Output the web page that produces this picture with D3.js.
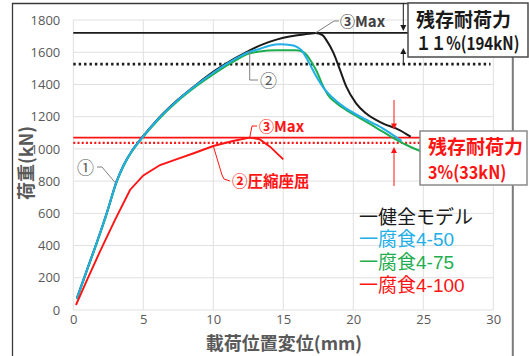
<!DOCTYPE html>
<html>
<head>
<meta charset="utf-8">
<script src="https://cdn.jsdelivr.net/npm/d3@7"></script>
<style>
  html, body { margin: 0; padding: 0; background: #fff; }
  svg { display: block; }
</style>
</head>
<body>
<svg id="chart" width="529" height="356"></svg>
<script>
// Load–displacement curves (displacement mm, load kN)
const healthy = [[0.25,72],[1.0,255],[1.7,425],[2.4,605],[3.1,800],[3.6,900],[4.2,990],[4.9,1070],[6.0,1182],[7.4,1300],[8.8,1400],[10.2,1490],[11.5,1560],[12.6,1612],[14.0,1664],[15.0,1690],[16.0,1706],[16.8,1714],[17.3,1720],[17.8,1706],[18.1,1672],[18.6,1593],[19.05,1490],[19.5,1386],[20.2,1283],[20.9,1221],[22.1,1159],[23.3,1117],[24.1,1076]];
const corr50 = [[0.25,70],[1.0,255],[1.7,425],[2.4,605],[3.1,800],[3.6,900],[4.2,990],[4.9,1068],[6.0,1180],[7.4,1298],[8.8,1398],[10.2,1485],[11.5,1555],[12.6,1603],[13.3,1620],[14.0,1640],[14.8,1649],[15.5,1645],[16.0,1632],[16.3,1612],[16.8,1541],[17.3,1459],[17.9,1376],[18.45,1324],[19.3,1262],[20.5,1200],[22.1,1128],[23.45,1050]];
const corr75 = [[0.25,68],[1.0,250],[1.7,420],[2.4,600],[3.1,795],[3.6,895],[4.2,985],[4.9,1065],[6.0,1175],[7.4,1292],[8.8,1390],[10.2,1475],[11.5,1545],[12.6,1593],[13.3,1605],[14.5,1612],[15.9,1612],[16.5,1598],[17.0,1541],[17.4,1479],[17.75,1407],[18.2,1334],[18.8,1283],[19.5,1241],[20.5,1190],[21.7,1128],[22.9,1066],[23.8,1024],[24.6,993],[25.4,965]];
const corr100 = [[0.19,31],[1.0,190],[1.9,362],[2.98,559],[4.05,745],[5.0,835],[6.2,900],[7.4,937],[8.6,973],[10.0,1018],[11.4,1049],[12.6,1070],[13.3,1060],[14.05,1014],[15.0,935]];

// Maximum loads and residual capacities
const maxLoads = [1720, 1070];          // healthy model, corrosion 4-100
const residualKN = [194, 33];
const residualPct = ["１１%", "3%"];

const xTicks = [0, 5, 10, 15, 20, 25, 30];
const yTicks = [0, 200, 400, 600, 800, 1000, 1200, 1400, 1600, 1800];

const seriesNames = ["健全モデル", "腐食4-50", "腐食4-75", "腐食4-100"];
const seriesColors = ["#1a1a1a", "#22aee6", "#1fad4f", "#ff1414"];

const svg = d3.select("#chart");
const x = d3.scaleLinear().domain([0, 30]).range([73.3, 493.3]);
const y = d3.scaleLinear().domain([0, 1800]).range([310, 20]);

const jp = "'Noto Sans CJK JP', 'Noto Sans', sans-serif";

// outer frame
svg.append("path").attr("d", "M12.5,360 V3.5 H512.5")
  .attr("fill", "none").attr("stroke", "#3a3a3a").attr("stroke-width", 1.3);
svg.append("line").attr("x1", 512.8).attr("x2", 512.8).attr("y1", 3).attr("y2", 360)
  .attr("stroke", "#7a7a7a").attr("stroke-width", 2);

// gridlines
const grid = svg.append("g");
grid.selectAll(".h").data(yTicks).join("line")
  .attr("x1", x(0)).attr("x2", x(30)).attr("y1", d => y(d)).attr("y2", d => y(d))
  .attr("stroke", "#e0e0e0").attr("stroke-width", 1);
grid.selectAll(".v").data(xTicks).join("line")
  .attr("x1", d => x(d)).attr("x2", d => x(d)).attr("y1", y(0)).attr("y2", y(1800))
  .attr("stroke", "#e0e0e0").attr("stroke-width", 1);

// axes
const yAxis = svg.append("g").attr("transform", `translate(${x(0)},0)`)
  .call(d3.axisLeft(y).tickValues(yTicks).tickFormat(d3.format("d")).tickSize(0).tickPadding(13));
const xAxis = svg.append("g").attr("transform", `translate(0,${y(0)})`)
  .call(d3.axisBottom(x).tickValues(xTicks).tickFormat(d3.format("d")).tickSize(0).tickPadding(5));
[yAxis, xAxis].forEach(a => {
  a.select(".domain").remove();
  a.selectAll("text").attr("fill", "#595959")
    .style("font-family", "'Open Sans', sans-serif").style("font-size", "13px");
});

svg.append("text").attr("transform", "translate(33,163) rotate(-90)")
  .attr("text-anchor", "middle").attr("fill", "#595959")
  .style("font-family", jp).style("font-size", "18px").style("font-weight", "bold")
  .text("荷重(kN)");
svg.append("text").attr("x", 284).attr("y", 349.5)
  .attr("text-anchor", "middle").attr("fill", "#595959")
  .style("font-family", jp).style("font-size", "18px").style("font-weight", "bold")
  .text("載荷位置変位(mm)");

// reference levels: maximum (solid) and after residual drop (dotted)
const refs = svg.append("g");
refs.append("line").attr("x1", x(0)).attr("x2", x(24.2))
  .attr("y1", y(maxLoads[0])).attr("y2", y(maxLoads[0]))
  .attr("stroke", "#1a1a1a").attr("stroke-width", 1.6);
refs.append("line").attr("x1", x(0)).attr("x2", x(29.8))
  .attr("y1", y(maxLoads[0] - residualKN[0])).attr("y2", y(maxLoads[0] - residualKN[0]))
  .attr("stroke", "#1a1a1a").attr("stroke-width", 2.6).attr("stroke-dasharray", "2.4,3");
refs.append("line").attr("x1", x(0)).attr("x2", x(25.2))
  .attr("y1", y(maxLoads[1])).attr("y2", y(maxLoads[1]))
  .attr("stroke", "#ff1414").attr("stroke-width", 1.6);
refs.append("line").attr("x1", x(0)).attr("x2", x(25.2))
  .attr("y1", y(maxLoads[1] - residualKN[1])).attr("y2", y(maxLoads[1] - residualKN[1]))
  .attr("stroke", "#ff1414").attr("stroke-width", 2.2).attr("stroke-dasharray", "2,2.2");

// curves
const line = d3.line().x(d => x(d[0])).y(d => y(d[1])).curve(d3.curveMonotoneX);
const lineLin = d3.line().x(d => x(d[0])).y(d => y(d[1]));
const curves = [healthy, corr75, corr50];
const curveColors = [seriesColors[0], seriesColors[2], seriesColors[1]];
svg.append("g").selectAll("path").data(curves).join("path")
  .attr("d", line).attr("fill", "none")
  .attr("stroke", (d, i) => curveColors[i]).attr("stroke-width", 2);
svg.append("path").datum(corr100).attr("d", lineLin).attr("fill", "none")
  .attr("stroke", seriesColors[3]).attr("stroke-width", 1.9);

// dimension arrows
function arrow(g, xp, y1, y2, color) {
  const dir = y2 > y1 ? 1 : -1;
  g.append("line").attr("x1", xp).attr("x2", xp).attr("y1", y1).attr("y2", y2 - dir * 4)
    .attr("stroke", color).attr("stroke-width", 1);
  g.append("path")
    .attr("d", `M${xp - 3},${y2 - dir * 6} L${xp + 3},${y2 - dir * 6} L${xp},${y2} Z`)
    .attr("fill", color);
}
const ann = svg.append("g");
arrow(ann, 403.3, 3, y(maxLoads[0]) - 2, "#1a1a1a");
arrow(ann, 403.3, y(maxLoads[0] - residualKN[0]), y(maxLoads[0]) + 15, "#1a1a1a");
arrow(ann, 394, 100, y(maxLoads[1]) - 8, "#ff1414");
arrow(ann, 394, 186, y(maxLoads[1] - residualKN[1]) + 4, "#ff1414");

// residual capacity boxes
ann.append("rect").attr("x", 408).attr("y", 3).attr("width", 120).attr("height", 54)
  .attr("fill", "#fff").attr("stroke", "#4a4a4a").attr("stroke-width", 1.5);
ann.append("text").attr("x", 416).attr("y", 27).attr("fill", "#1a1a1a")
  .style("font-family", jp).style("font-size", "19px").style("font-weight", "bold")
  .text("残存耐荷力");
ann.append("text").attr("transform", "translate(416,50) scale(0.84,1)").attr("fill", "#1a1a1a")
  .style("font-family", jp).style("font-size", "18px").style("font-weight", "bold")
  .text(`${residualPct[0]}(${residualKN[0]}kN)`);

ann.append("rect").attr("x", 420).attr("y", 131).attr("width", 107).attr("height", 54)
  .attr("fill", "#fff").attr("stroke", "#8a8a8a").attr("stroke-width", 1.5);
ann.append("text").attr("x", 428).attr("y", 153.5).attr("fill", "#ff1414")
  .style("font-family", jp).style("font-size", "19px").style("font-weight", "bold")
  .text("残存耐荷力");
ann.append("text").attr("transform", "translate(428,178.5) scale(0.9,1)").attr("fill", "#ff1414")
  .style("font-family", jp).style("font-size", "18px").style("font-weight", "bold")
  .text(`${residualPct[1]}(${residualKN[1]}kN)`);

// point callouts
function callout(pts, color) {
  ann.append("polyline").attr("points", pts.map(p => p.join(",")).join(" "))
    .attr("fill", "none").attr("stroke", color).attr("stroke-width", 1);
}
// ③Max on healthy curve
callout([[x(17.3), y(1720)], [334, 21], [339, 21]], "#808080");
ann.append("text").attr("x", 340).attr("y", 26.5).attr("fill", "#404040")
  .style("font-family", jp).style("font-size", "15px").style("font-weight", "bold").text("③Max");
// ②
callout([[x(12.6), y(1608)], [x(12.6), 80], [258, 80]], "#808080");
ann.append("text").attr("x", 260).attr("y", 86.5).attr("fill", "#595959")
  .style("font-family", jp).style("font-size", "17px").text("②");
// ①
callout([[x(3.0), y(790)], [102, 167], [97, 167]], "#808080");
ann.append("text").attr("x", 77).attr("y", 174).attr("fill", "#595959")
  .style("font-family", jp).style("font-size", "17px").text("①");
// red ③Max
callout([[x(12.6), y(1070)], [252, 126], [257, 126]], "#ff1414");
ann.append("text").attr("x", 259).attr("y", 131.5).attr("fill", "#ff1414")
  .style("font-family", jp).style("font-size", "15px").style("font-weight", "bold").text("③Max");
// red ②圧縮座屈
callout([[x(10.0), y(1018)], [222, 175], [224, 179], [230, 181]], "#ff1414");
ann.append("text").attr("x", 232).attr("y", 187).attr("fill", "#ff1414")
  .style("font-family", jp).style("font-size", "15.5px").style("font-weight", "bold").text("②圧縮座屈");

// legend
svg.append("g").selectAll("text").data(seriesNames).join("text")
  .attr("x", 359).attr("y", (d, i) => 223.5 + i * 22.8)
  .attr("fill", (d, i) => seriesColors[i])
  .style("font-family", "'Liberation Sans', 'Noto Sans CJK JP', sans-serif").style("font-size", "19px")
  .text(d => "一" + d);
</script>
</body>
</html>
